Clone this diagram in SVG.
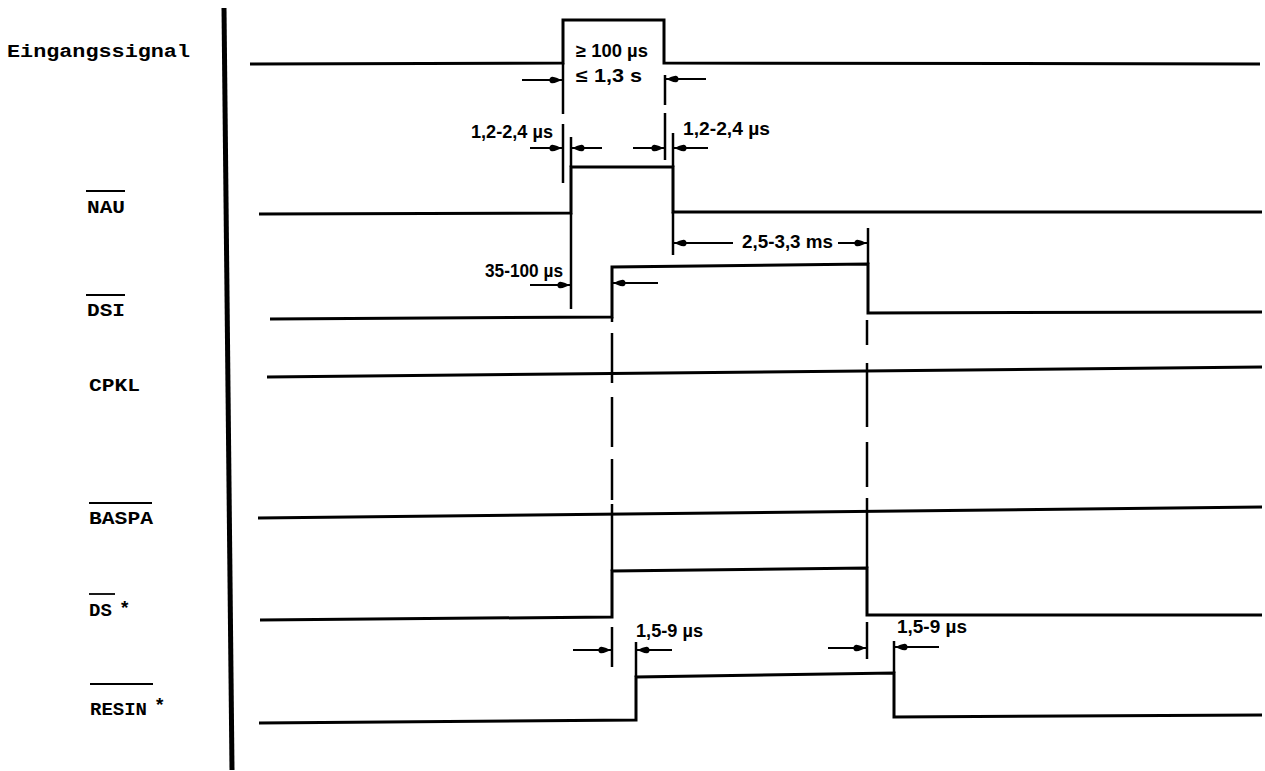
<svg xmlns="http://www.w3.org/2000/svg" width="1265" height="771" viewBox="0 0 1265 771">
<style>
.sig{fill:none;stroke:#000;stroke-width:3;stroke-linejoin:miter}
.tk{fill:none;stroke:#000;stroke-width:2.5}
.ar{fill:none;stroke:#000;stroke-width:2;marker-end:url(#ah)}
.ov{stroke:#000;stroke-width:1.8}
.lb{font-family:"Liberation Mono","DejaVu Sans Mono",monospace;font-weight:bold;font-size:19px;fill:#000}
.dim{font-family:"Liberation Sans","DejaVu Sans",sans-serif;font-weight:bold;font-size:18px;fill:#000}
</style>
<defs>
<marker id="ah" viewBox="-14 -4 15 8" refX="0" refY="0" markerWidth="15" markerHeight="8" orient="auto" markerUnits="userSpaceOnUse">
<path d="M0,0 C-3,-1 -7,-3.5 -10,-3.3 C-13.5,-2.8 -13.5,2.8 -10,3.3 C-7,3.5 -3,1 0,0 Z" fill="#000"/>
</marker>
</defs>
<rect width="1265" height="771" fill="#fff"/>
<line x1="224" y1="8" x2="232" y2="770" stroke="#000" stroke-width="5"/>

<g id="eingangssignal">
<text class="lb" x="7" y="57" textLength="183" lengthAdjust="spacingAndGlyphs">Eingangssignal</text>
<polyline class="sig" points="250,64 563,63 563,20 664,20 664,63 1260,64"/>
</g>
<g id="nau">
<line class="ov" x1="86" y1="191" x2="125" y2="191"/>
<text class="lb" x="87" y="213" textLength="38" lengthAdjust="spacingAndGlyphs">NAU</text>
<polyline class="sig" points="259,214 571,213 571,167 673,167 673,212 1262,212"/>
</g>
<g id="dsi">
<line class="ov" x1="86" y1="295" x2="125" y2="295"/>
<text class="lb" x="87" y="316" textLength="38" lengthAdjust="spacingAndGlyphs">DSI</text>
<polyline class="sig" points="270,319 612,317 612,267 868,264 868,313 1262,312"/>
</g>
<g id="cpkl">
<text class="lb" x="89" y="391" textLength="51" lengthAdjust="spacingAndGlyphs">CPKL</text>
<line class="sig" x1="267" y1="377" x2="1262" y2="367"/>
</g>
<g id="baspa">
<line class="ov" x1="89" y1="503" x2="152" y2="503"/>
<text class="lb" x="89" y="524" textLength="64" lengthAdjust="spacingAndGlyphs">BASPA</text>
<line class="sig" x1="258" y1="518" x2="1262" y2="507"/>
</g>
<g id="ds">
<line class="ov" x1="89" y1="594" x2="115" y2="594"/>
<text class="lb" x="89" y="616">DS<tspan x="119" dy="-2">*</tspan></text>
</g>
<g id="ds-signal">
<polyline class="sig" points="260,620 612,617 612,571 867,568 867,615 1262,615"/>
</g>
<g id="resin">
<line class="ov" x1="90" y1="684" x2="153" y2="684"/>
<text class="lb" x="90" y="715" >RESIN<tspan x="154" dy="-4">*</tspan></text>
<polyline class="sig" points="259,723 636,720 636,677 894,673 894,717 1262,715"/>
</g>

<g id="connectors">
<line class="tk" x1="563" y1="63" x2="563" y2="114"/>
<line class="tk" x1="563" y1="124" x2="563" y2="183"/>
<line class="tk" x1="665" y1="75" x2="665" y2="105"/>
<line class="tk" x1="665" y1="113" x2="665" y2="160"/>
<line class="tk" x1="571" y1="137" x2="571" y2="167"/>
<line class="tk" x1="571" y1="213" x2="571" y2="309"/>
<line class="tk" x1="673" y1="133" x2="673" y2="167"/>
<line class="tk" x1="673" y1="212" x2="673" y2="255"/>
<line class="tk" x1="868" y1="228" x2="868" y2="264"/>
<line class="tk" x1="612" y1="317" x2="612" y2="322"/>
<line class="tk" x1="612" y1="333" x2="612" y2="383"/>
<line class="tk" x1="612" y1="397" x2="612" y2="447"/>
<line class="tk" x1="612" y1="459" x2="612" y2="500"/>
<line class="tk" x1="612" y1="504" x2="612" y2="571"/>
<line class="tk" x1="867" y1="320" x2="867" y2="345"/>
<line class="tk" x1="867" y1="363" x2="867" y2="427"/>
<line class="tk" x1="867" y1="442" x2="867" y2="487"/>
<line class="tk" x1="867" y1="498" x2="867" y2="568"/>
<line class="tk" x1="612" y1="627" x2="612" y2="667"/>
<line class="tk" x1="636" y1="642" x2="636" y2="677"/>
<line class="tk" x1="867" y1="622" x2="867" y2="659"/>
<line class="tk" x1="894" y1="641" x2="894" y2="673"/>
<line class="ar" x1="522" y1="80" x2="562" y2="80"/>
<line class="ar" x1="706" y1="79" x2="666" y2="79"/>
<line class="ar" x1="530" y1="148" x2="562" y2="148"/>
<line class="ar" x1="602" y1="148" x2="572" y2="148"/>
<line class="ar" x1="633" y1="148" x2="664" y2="148"/>
<line class="ar" x1="708" y1="148" x2="674" y2="148"/>
<line class="ar" x1="530" y1="285" x2="570" y2="285"/>
<line class="ar" x1="658" y1="283" x2="613" y2="283"/>
<line class="ar" x1="733" y1="243" x2="674" y2="243"/>
<line class="ar" x1="838" y1="243" x2="867" y2="243"/>
<line class="ar" x1="573" y1="650" x2="611" y2="650"/>
<line class="ar" x1="672" y1="650" x2="637" y2="650"/>
<line class="ar" x1="828" y1="648" x2="866" y2="648"/>
<line class="ar" x1="939" y1="647" x2="895" y2="647"/>
<text class="dim" x="576" y="57" textLength="72" lengthAdjust="spacingAndGlyphs">≥ 100 µs</text>
<text class="dim" x="576" y="82" textLength="66" lengthAdjust="spacingAndGlyphs">≤ 1,3 s</text>
<text class="dim" x="471" y="138" textLength="82" lengthAdjust="spacingAndGlyphs">1,2-2,4 µs</text>
<text class="dim" x="683" y="135" textLength="87" lengthAdjust="spacingAndGlyphs">1,2-2,4 µs</text>
<text class="dim" x="485" y="277" textLength="78" lengthAdjust="spacingAndGlyphs">35-100 µs</text>
<text class="dim" x="742" y="248" textLength="91" lengthAdjust="spacingAndGlyphs">2,5-3,3 ms</text>
<text class="dim" x="636" y="637" textLength="67" lengthAdjust="spacingAndGlyphs">1,5-9 µs</text>
<text class="dim" x="897" y="633" textLength="70" lengthAdjust="spacingAndGlyphs">1,5-9 µs</text>
</g>
</svg>
